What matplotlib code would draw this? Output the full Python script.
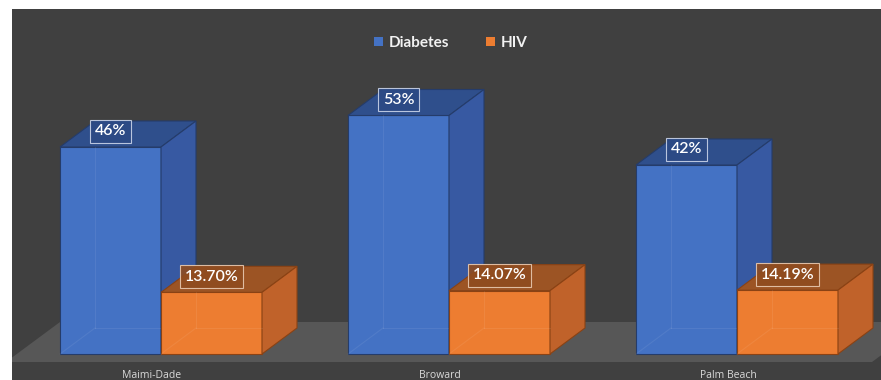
import matplotlib.pyplot as plt
from matplotlib.patches import Polygon, Patch

# data
counties = ['Maimi-Dade', 'Broward', 'Palm Beach']
diabetes = [46, 53, 42]
hiv = [13.70, 14.07, 14.19]
diabetes_lbl = ['46%', '53%', '42%']
hiv_lbl = ['13.70%', '14.07%', '14.19%']

# colours
BLUE_FRONT, BLUE_TOP, BLUE_SIDE, BLUE_EDGE = '#4472C4', '#2f4f8c', '#3759a2', '#253c6a'
ORG_FRONT, ORG_TOP, ORG_SIDE, ORG_EDGE = '#ED7D31', '#9c5424', '#c0622a', '#8a4214'
BG = '#404040'
FLOOR = '#575757'

plt.rcParams['font.family'] = ['Lato', 'DejaVu Sans']

fig = plt.figure(figsize=(8.81, 3.80), dpi=100)
fig.patch.set_facecolor('white')
ax = fig.add_axes([12 / 881, 0, 1 - 12 / 881, (380 - 9) / 380])
ax.set_facecolor(BG)
for s in ax.spines.values():
    s.set_visible(False)
ax.set_xticks([])
ax.set_yticks([])

# pixel -> data unit helpers (category spacing 288 px, 4.5 px per %)
PX = 1 / 288
PY = 1 / 4.5
ax.set_xlim(-149 * PX, 720 * PX)
ax.set_ylim(-26 * PY, 345 * PY)

W = 101 * PX           # bar width
DX, DY = 35 * PX, 26 * PY  # 3d depth offset

# floor
fy0, fy1 = -8 * PY, 32 * PY
fx0, fx1 = -155 * PX, 711 * PX
fdx = 54 * PX
ax.add_patch(Polygon([(fx0, fy0), (fx1, fy0), (fx1 + fdx, fy1), (fx0 + fdx, fy1)],
                     closed=True, fc=FLOOR, ec='none', zorder=1))


def box3d(x0, h, front, top, side, edge, z):
    ax.bar(x0, h, width=W, align='edge', color=front, edgecolor=edge,
           linewidth=0.8, zorder=z)
    ax.add_patch(Polygon([(x0, h), (x0 + W, h), (x0 + W + DX, h + DY), (x0 + DX, h + DY)],
                         closed=True, fc=top, ec=edge, lw=0.8, zorder=z))
    ax.add_patch(Polygon([(x0 + W, 0), (x0 + W + DX, DY), (x0 + W + DX, h + DY), (x0 + W, h)],
                         closed=True, fc=side, ec=edge, lw=0.8, zorder=z))
    # faint hidden back edges seen through the front face
    ax.plot([x0 + DX, x0 + DX], [DY, h], color='white', alpha=0.07, lw=0.8, zorder=z + 0.1)
    ax.plot([x0 + DX, x0 + W], [DY, DY], color='white', alpha=0.07, lw=0.8, zorder=z + 0.1)
    ax.plot([x0, x0 + DX], [0, DY], color='white', alpha=0.07, lw=0.8, zorder=z + 0.1)


for i in range(len(counties)):
    box3d(i - W, diabetes[i], BLUE_FRONT, BLUE_TOP, BLUE_SIDE, BLUE_EDGE, 2)
    box3d(i, hiv[i], ORG_FRONT, ORG_TOP, ORG_SIDE, ORG_EDGE, 3)

    ax.text(i - W / 2, diabetes[i] + DY * 0.6, diabetes_lbl[i], ha='center', va='center',
            fontsize=11.5, color='white', weight='semibold', zorder=5,
            bbox=dict(boxstyle='square,pad=0.28', fc='#2c4a85', ec='#c9d3e8', lw=0.8, alpha=0.9))
    ax.text(i + W / 2, hiv[i] + DY * 0.6, hiv_lbl[i], ha='center', va='center',
            fontsize=11.5, color='white', weight='semibold', zorder=5,
            bbox=dict(boxstyle='square,pad=0.28', fc='#8f4c1f', ec='#e8c9b0', lw=0.8, alpha=0.9))

    ax.text(i - 9 * PX, -21 * PY, counties[i], ha='center', va='center',
            fontsize=7.5, color='#d9d9d9', family=['Open Sans', 'DejaVu Sans'])

# legend
handles = [Patch(fc=BLUE_FRONT, ec='none'), Patch(fc=ORG_FRONT, ec='none')]
leg = fig.legend(handles, ['Diabetes', 'HIV'], loc='center', ncol=2,
                 bbox_to_anchor=(451 / 881, 1 - 43 / 380), frameon=False,
                 handlelength=0.55, handleheight=0.55, handletextpad=0.4,
                 columnspacing=2.4, prop={'size': 11, 'weight': 'bold'})
for t in leg.get_texts():
    t.set_color('#f2f2f2')

fig.savefig('out.png', dpi=100, facecolor=fig.get_facecolor())
